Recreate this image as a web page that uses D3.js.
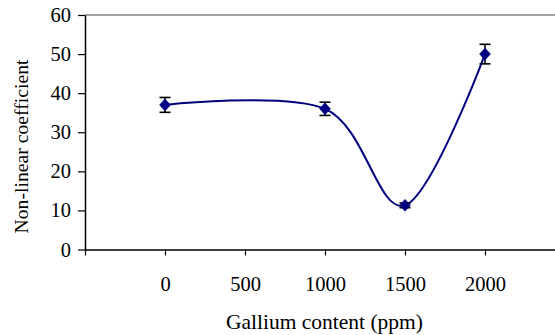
<!DOCTYPE html>
<html>
<head>
<meta charset="utf-8">
<script src="https://cdn.jsdelivr.net/npm/d3@7"></script>
<style>
  html, body { margin: 0; padding: 0; background: #fff; }
  svg { display: block; }
  svg text { font-family: "Times New Roman", "Liberation Serif", "DejaVu Serif", serif !important; fill: #000; }
</style>
</head>
<body>
<svg id="chart" width="555" height="335"></svg>
<script>
// Gallium doping series: non-linear coefficient with error bars
const gallium = [0, 1000, 1500, 2000];
const coefficient = [37, 36, 11.3, 50];
const errorBar = [1.9, 1.7, 0.6, 2.5];

const xTicks = [-500, 0, 500, 1000, 1500, 2000];
const yTicks = [0, 10, 20, 30, 40, 50, 60];

const xTitle = "Gallium content (ppm)";
const yTitle = "Non-linear coefficient";

const plotLeft = 85, plotTop = 15, plotBottom = 249.5, plotRight = 555;
const serif = '"Times New Roman", "Liberation Serif", "DejaVu Serif", serif';

const svg = d3.select("#chart");

const x = d3.scaleLinear().domain([-500, 2437.5]).range([plotLeft, plotRight]);
const y = d3.scaleLinear().domain([0, 60]).range([plotBottom, plotTop]);

// plot area top border
svg.append("line")
  .attr("x1", plotLeft).attr("x2", plotRight)
  .attr("y1", plotTop).attr("y2", plotTop)
  .attr("stroke", "#808080").attr("stroke-width", 1.5);

// y axis
const yAxis = svg.append("g")
  .attr("transform", `translate(${plotLeft},0)`)
  .call(d3.axisLeft(y).tickValues(yTicks).tickSize(7).tickPadding(7).tickSizeOuter(0))
  .attr("font-family", serif);
yAxis.select(".domain").attr("stroke", "#000").attr("stroke-width", 1.5);
yAxis.selectAll(".tick line").attr("stroke", "#000").attr("stroke-width", 1.2);
yAxis.selectAll("text").attr("font-size", 20.5).attr("fill", "#000");

// x axis
const xAxis = svg.append("g")
  .attr("transform", `translate(0,${plotBottom})`)
  .call(d3.axisBottom(x).tickValues(xTicks).tickFormat(d => d < 0 ? "" : d)
    .tickSize(6).tickPadding(21).tickSizeOuter(0))
  .attr("font-family", serif);
xAxis.select(".domain").attr("stroke", "#000").attr("stroke-width", 1.5);
xAxis.selectAll(".tick line").attr("stroke", "#000").attr("stroke-width", 1.2);
xAxis.selectAll("text").attr("font-size", 20.5).attr("fill", "#000");

// axis titles
svg.append("text")
  .attr("x", 324.5).attr("y", 329)
  .attr("text-anchor", "middle")
  .attr("font-family", serif)
  .attr("font-size", 21.5)
  .text(xTitle);

svg.append("text")
  .attr("transform", "translate(28,146.5) rotate(-90)")
  .attr("text-anchor", "middle")
  .attr("font-family", serif)
  .attr("font-size", 19.7)
  .text(yTitle);

const pts = gallium.map((g, i) => ({ g, v: coefficient[i], e: errorBar[i] }));

// smoothed connecting line
const line = d3.line()
  .x(d => x(d.g)).y(d => y(d.v))
  .curve(d3.curveCardinal.tension(0));
svg.append("path")
  .datum(pts)
  .attr("d", line)
  .attr("fill", "none")
  .attr("stroke", "#000080")
  .attr("stroke-width", 2);

// error bars
const eb = svg.append("g").attr("stroke", "#000").attr("stroke-width", 1.6);
pts.forEach(d => {
  const cx = x(d.g);
  eb.append("line").attr("x1", cx).attr("x2", cx).attr("y1", y(d.v + d.e)).attr("y2", y(d.v - d.e));
  eb.append("line").attr("x1", cx - 5.5).attr("x2", cx + 5.5).attr("y1", y(d.v + d.e)).attr("y2", y(d.v + d.e));
  eb.append("line").attr("x1", cx - 5.5).attr("x2", cx + 5.5).attr("y1", y(d.v - d.e)).attr("y2", y(d.v - d.e));
});

// diamond markers
svg.append("g").selectAll("path")
  .data(pts)
  .join("path")
  .attr("transform", d => `translate(${x(d.g)},${y(d.v)})`)
  .attr("d", "M0,-6L5.5,0L0,6L-5.5,0Z")
  .attr("fill", "#000080")
  .attr("stroke", "#000080")
  .attr("stroke-width", 0.5);
</script>
</body>
</html>
